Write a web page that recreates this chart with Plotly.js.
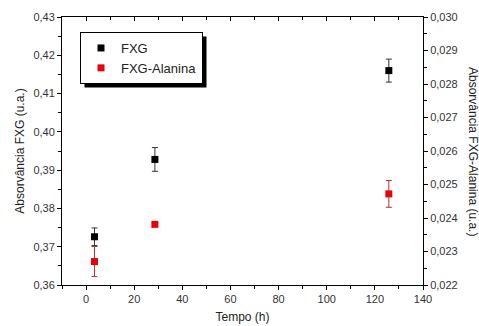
<!DOCTYPE html>
<html><head><meta charset="utf-8">
<script src="https://cdn.plot.ly/plotly-3.0.1.min.js"></script>
<style>body{margin:0;background:#fff}#c{width:479px;height:326px}</style>
</head><body><div id="c"></div>
<script>
const tempo = [3.5, 28.6, 125.8];
const fxg = [0.3726, 0.3928, 0.4160];
const fxgErr = [0.0023, 0.0031, 0.0030];
const ala = [0.02270, 0.02381, 0.02472];
const alaErr = [0.00045, 0.00003, 0.00040];
const names = ['FXG', 'FXG-Alanina'];

const L = 62, R = 56, T = 17, B = 41, W = 479, H = 326;
const pw = W - L - R, ph = H - T - B;
const px = v => (v - L) / pw, py = v => (H - B - v) / ph;

const data = [
  {x: tempo, y: fxg, name: names[0], type: 'scatter', mode: 'markers',
   marker: {symbol: 'square', size: 7, color: '#000'},
   error_y: {type: 'data', array: fxgErr, color: '#333', thickness: 1, width: 3}},
  {x: tempo, y: ala, name: names[1], type: 'scatter', mode: 'markers', yaxis: 'y2',
   marker: {symbol: 'square', size: 7, color: '#e8000b'},
   error_y: {type: 'data', array: alaErr, color: '#c03030', thickness: 1, width: 3}},
  {x: [null], y: [null], xaxis: 'x2', showlegend: false, hoverinfo: 'skip'}
];
const tf = {family: 'Liberation Sans, Arial, sans-serif', size: 11, color: '#333'};
const layout = {
  width: W, height: H, margin: {l: L, r: R, t: T, b: B},
  paper_bgcolor: '#fff', plot_bgcolor: '#fff', separators: ',.',
  showlegend: true,
  font: {family: 'Liberation Sans, Arial, sans-serif', color: '#222'},
  xaxis: {range: [-10, 140], dtick: 20, tick0: 0, ticks: 'outside', ticklen: 4, tickwidth: 1,
    tickcolor: '#000', showgrid: false, zeroline: false, showline: true, linecolor: '#000', linewidth: 1,
    tickfont: tf, minor: {dtick: 10, ticks: 'outside', ticklen: 3, tickcolor: '#000'},
    title: {text: 'Tempo (h)', font: {size: 12, color: '#222'}, standoff: 8}},
  xaxis2: {range: [-10, 140], dtick: 20, tick0: 0, ticks: 'inside', ticklen: 4, overlaying: 'x', side: 'top',
    showticklabels: false, showgrid: false, zeroline: false, showline: true, linecolor: '#000', tickcolor: '#000',
    minor: {dtick: 10, ticks: 'inside', ticklen: 3, tickcolor: '#000'}, anchor: 'y'},
  yaxis: {range: [0.36, 0.43], dtick: 0.01, tickformat: '.2f', ticks: 'outside', ticklen: 4, tickcolor: '#000',
    showgrid: false, zeroline: false, showline: true, linecolor: '#000', tickfont: tf,
    minor: {dtick: 0.005, ticks: 'outside', ticklen: 3, tickcolor: '#000'},
    title: {text: 'Absorvância FXG (u.a.)', font: {size: 12, color: '#222'}, standoff: 6}},
  yaxis2: {range: [0.022, 0.030], dtick: 0.001, tickformat: '.3f', ticks: 'outside', ticklen: 4, tickcolor: '#000',
    overlaying: 'y', side: 'right', anchor: 'x', showgrid: false, zeroline: false, showline: true, linecolor: '#000',
    tickfont: tf, minor: {dtick: 0.0005, ticks: 'outside', ticklen: 3, tickcolor: '#000'}},
  legend: {x: px(80), y: py(32), xanchor: 'left', yanchor: 'top', bgcolor: '#fff', bordercolor: '#000',
    borderwidth: 1, font: {size: 13, color: '#222'}, itemwidth: 30},
  shapes: [{type: 'rect', xref: 'paper', yref: 'paper', x0: px(84), x1: px(204), y0: py(36), y1: py(87),
    fillcolor: '#000', line: {width: 0}, layer: 'above'}],
  annotations: [{text: 'Absorvância FXG-Alanina (u.a.)', textangle: 90, xref: 'paper', yref: 'paper',
    x: px(473), xanchor: 'center', y: 0.5, showarrow: false, font: {size: 12, color: '#222'}}]
};
function fix(gd) {
  const bgEl = gd.querySelector('.legend .bg');
  const shEl = gd.querySelector('.shapelayer path');
  if (!bgEl || !shEl) return Promise.resolve(gd);
  const lb = bgEl.getBoundingClientRect(), sb = shEl.getBoundingClientRect();
  const s = gd.layout.shapes[0];
  const dx = (lb.left + 4 - sb.left) / pw, dy = (lb.top + 4 - sb.top) / ph;
  const sx = lb.width / pw, sy = lb.height / ph;
  const nx0 = s.x0 + dx, ny1 = Math.max(s.y0, s.y1) - dy;
  return Plotly.relayout(gd, {'shapes[0].x0': nx0, 'shapes[0].x1': nx0 + sx,
    'shapes[0].y1': ny1, 'shapes[0].y0': ny1 - sy});
}
Plotly.newPlot('c', data, layout, {staticPlot: true}).then(fix).then(fix);
</script></body></html>
